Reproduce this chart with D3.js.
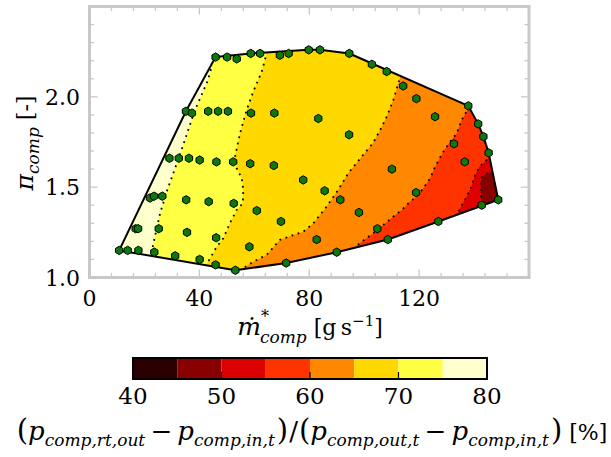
<!DOCTYPE html>
<html><head><meta charset="utf-8">
<script src="https://cdn.jsdelivr.net/npm/d3@7"></script>
<style>body{margin:0;background:#fff}svg{display:block}text{font-family:"DejaVu Serif",serif;fill:#000}</style>
</head><body><svg id="c" width="611" height="457"></svg>
<script>
// ---------------- data ----------------
const xTickValues = [0, 40, 80, 120];
const xTickLabels = ["0", "40", "80", "120"];
const yTickValues = [1.0, 1.5, 2.0];
const yTickLabels = ["1.0", "1.5", "2.0"];
const cbTickValues = [40, 50, 60, 70, 80];
const cbTickLabels = ["40", "50", "60", "70", "80"];
const bandEdges = [40, 45, 50, 55, 60, 65, 70, 75, 80];
const bandColors = ["#2b0000", "#880000", "#dd0000", "#ff3300", "#ff8800", "#ffd800", "#ffff44", "#ffffcc"];

// operating points: corrected mass flow [g/s], pressure ratio [-]
const massFlow = [45.9,50.1,53.6,58.7,62.1,69.3,72.5,79.8,83.9,94.6,102.8,108.2,114.2,119.0,137.9,125.8,141.5,143.4,94.5,132.7,145.3,136.6,110.1,118.9,91.3,98.1,104.8,108.6,127.0,142.8,148.8,90.0,71.6,53.1,45.9,40.1,31.2,23.6,17.8,13.9,10.8,16.8,17.7,25.2,35.5,46.1,58.2,82.7,22.0,23.5,26.5,35.2,43.4,52.5,60.9,69.7,29.1,32.5,36.2,40.1,46.2,52.3,58.5,67.1,77.8,85.6,35.1,37.3,43.2,46.8,50.4,58.8,67.3,83.3];
const pressureRatio = [2.22,2.22,2.21,2.24,2.24,2.23,2.24,2.26,2.26,2.24,2.18,2.14,2.06,1.99,1.95,1.89,1.85,1.78,1.79,1.74,1.69,1.64,1.60,1.47,1.43,1.36,1.27,1.21,1.31,1.40,1.43,1.14,1.08,1.04,1.07,1.10,1.12,1.14,1.15,1.15,1.15,1.27,1.27,1.27,1.25,1.22,1.17,1.21,1.44,1.45,1.45,1.43,1.42,1.41,1.37,1.31,1.66,1.66,1.66,1.65,1.64,1.64,1.63,1.62,1.54,1.48,1.92,1.91,1.92,1.92,1.92,1.91,1.91,1.88];

// contour levels [%] and their iso-lines (mass flow, pressure ratio)
const contourLevels = [75, 70, 65, 60, 55, 50];
const contour75 = [[42.0,2.25],[44.5,2.167],[42.9,2.084],[38.4,1.927],[33.9,1.724],[30.5,1.577],[28.3,1.484],[25.7,1.355],[23.8,1.226],[22.6,1.141],[22.2,1.086]];
const contour70 = [[64.8,2.287],[64.5,2.241],[62.7,2.139],[59.6,2.028],[57.2,1.927],[54.8,1.798],[53.5,1.706],[53.0,1.678],[53.6,1.604],[55.4,1.549],[56.0,1.484],[55.8,1.411],[53.6,1.374],[51.1,1.300],[48.7,1.217],[46.3,1.170],[43.9,1.106],[42.7,1.075],[41.3,1.014]];
const contour65 = [[113.8,2.160],[113.0,2.104],[110.6,1.982],[108.2,1.890],[105.8,1.816],[103.2,1.744],[99.1,1.669],[94.2,1.577],[90.5,1.484],[86.3,1.392],[81.5,1.300],[77.8,1.253],[74.2,1.235],[69.3,1.208],[64.5,1.125],[59.6,1.087],[56.0,1.051],[54.8,0.997]];
const contour60 = [[138.5,1.982],[137.9,1.937],[135.5,1.872],[133.7,1.798],[131.2,1.750],[128.8,1.696],[125.8,1.613],[124.0,1.549],[121.5,1.494],[119.1,1.447],[116.7,1.420],[113.7,1.374],[110.6,1.337],[107.0,1.291],[103.3,1.245],[99.1,1.198],[96.7,1.169],[94.1,1.119]];
const contour55 = [[149.1,1.733],[147.3,1.695],[144.5,1.650],[141.9,1.612],[140.1,1.556],[138.8,1.494],[137.0,1.438],[135.2,1.390],[133.6,1.340],[132.5,1.291]];
const contour50 = [[148.0,1.628],[146.9,1.595],[144.4,1.573],[142.8,1.556],[142.4,1.512],[142.5,1.457],[142.8,1.401],[142.9,1.363]];
const contourLines = [contour75, contour70, contour65, contour60, contour55, contour50];

// ---------------- drawing ----------------
const FONT = "DejaVu Serif, serif";
const svg = d3.select("#c");
const x = d3.scaleLinear().domain([0, 160]).range([89.5, 529]);
const y = d3.scaleLinear().domain([1.0, 2.5]).range([277.5, 6.5]);
const cb = d3.scaleLinear().domain([40, 80]).range([133, 487]);
const colorOf = d3.scaleThreshold().domain(bandEdges.slice(1, -1)).range(bandColors);

const pts = massFlow.map((m, i) => [m, pressureRatio[i]]);
const hull = d3.polygonHull(pts);
const line = d3.line().x(d => x(d[0])).y(d => y(d[1]));

svg.append("clipPath").attr("id", "hullclip")
  .append("path").attr("d", line(hull) + "Z");

const g = svg.append("g").attr("clip-path", "url(#hullclip)");
g.append("path").attr("d", line(hull) + "Z").attr("fill", colorOf(77.5));
contourLevels.forEach((L, i) => {
  const c = contourLines[i];
  const first = c[0], last = c[c.length - 1];
  const poly = c.concat([[last[0], 0.5], [200, 0.5], [200, 3], [first[0], 3]]);
  g.append("path").attr("d", line(poly) + "Z").attr("fill", colorOf(L - 2.5));
});
contourLines.forEach(c => {
  g.append("path").attr("d", line(c)).attr("fill", "none")
    .attr("stroke", "#000").attr("stroke-width", 1.8).attr("stroke-dasharray", "1.8 4.6");
});

svg.append("path").attr("d", line(hull) + "Z").attr("fill", "none")
  .attr("stroke", "#000").attr("stroke-width", 2).attr("stroke-linejoin", "round");

const hex = r => d3.range(6).map(k => {
  const a = Math.PI / 2 + k * Math.PI / 3;
  return [r * Math.cos(a), r * Math.sin(a)];
});
const hexPath = "M" + hex(4.2).map(p => p.join(",")).join("L") + "Z";
svg.append("g").selectAll("path").data(pts).join("path")
  .attr("d", hexPath)
  .attr("transform", d => `translate(${x(d[0])},${y(d[1])})`)
  .attr("fill", "#0b7a0b").attr("stroke", "#000").attr("stroke-width", 1);

// frame and ticks
const tickColor = "#c8c8c8";
const ax = svg.append("g").attr("stroke", tickColor);
const X0 = x.range()[0], X1 = x.range()[1], Y0 = y.range()[0], Y1 = y.range()[1];
d3.range(0, 161, 8).forEach(v => {
  const len = v % 40 === 0 ? 8 : 4.5;
  ax.append("line").attr("x1", x(v)).attr("x2", x(v)).attr("y1", Y0).attr("y2", Y0 - len).attr("stroke-width", 1.3);
  ax.append("line").attr("x1", x(v)).attr("x2", x(v)).attr("y1", Y1).attr("y2", Y1 + len).attr("stroke-width", 1.3);
});
d3.range(0, 16).forEach(k => {
  const v = 1.0 + k * 0.1;
  const len = k % 5 === 0 ? 8 : 4.5;
  ax.append("line").attr("y1", y(v)).attr("y2", y(v)).attr("x1", X0).attr("x2", X0 + len).attr("stroke-width", 1.3);
  ax.append("line").attr("y1", y(v)).attr("y2", y(v)).attr("x1", X1).attr("x2", X1 - len).attr("stroke-width", 1.3);
});
svg.append("rect").attr("x", X0).attr("y", Y1).attr("width", X1 - X0).attr("height", Y0 - Y1)
  .attr("fill", "none").attr("stroke", tickColor).attr("stroke-width", 3);

// tick labels
xTickValues.forEach((v, i) => {
  svg.append("text").attr("x", x(v)).attr("y", 306).attr("text-anchor", "middle")
    .attr("font-family", FONT).attr("font-size", 22).text(xTickLabels[i]);
});
yTickValues.forEach((v, i) => {
  svg.append("text").attr("x", 80).attr("y", y(v) + 8).attr("text-anchor", "end")
    .attr("font-family", FONT).attr("font-size", 22).text(yTickLabels[i]);
});

// x axis label
{
  const t = svg.append("text").attr("x", 0).attr("y", 335).attr("font-family", FONT);
  t.append("tspan").text("\u1E41").attr("font-size", 25).attr("font-style", "italic");
  const st = t.append("tspan").text("*").attr("font-size", 16).attr("dy", -13);
  const wst = st.node().getComputedTextLength();
  t.append("tspan").text("comp").attr("font-size", 17).attr("font-style", "italic").attr("dx", -wst - 1).attr("dy", 21);
  t.append("tspan").text("[g\u2009s").attr("font-size", 22).attr("dx", 7).attr("dy", -8);
  t.append("tspan").text("\u22121").attr("font-size", 15).attr("dy", -9);
  t.append("tspan").text("]").attr("font-size", 22).attr("dy", 9);
  const w = t.node().getComputedTextLength();
  t.attr("x", 309 - w / 2 + 2);
}

// y axis label
{
  const t = svg.append("text").attr("transform", "translate(33,143) rotate(-90)").attr("text-anchor", "middle")
    .attr("font-family", FONT);
  t.append("tspan").text("\u03C0").attr("font-size", 25).attr("font-style", "italic");
  t.append("tspan").text("comp").attr("font-size", 17).attr("font-style", "italic").attr("dy", 6);
  t.append("tspan").text("[-]").attr("font-size", 22).attr("dx", 7).attr("dy", -6);
}

// colorbar
const cbg = svg.append("g");
bandColors.forEach((c, i) => {
  cbg.append("rect").attr("x", cb(bandEdges[i])).attr("y", 358)
    .attr("width", cb(bandEdges[i + 1]) - cb(bandEdges[i])).attr("height", 21).attr("fill", c);
});
[50, 60, 70].forEach(v => {
  cbg.append("line").attr("x1", cb(v)).attr("x2", cb(v)).attr("y1", 379).attr("y2", 372)
    .attr("stroke", "#000").attr("stroke-width", 1.2);
});
cbg.append("rect").attr("x", cb(40)).attr("y", 358).attr("width", cb(80) - cb(40)).attr("height", 21)
  .attr("fill", "none").attr("stroke", "#000").attr("stroke-width", 2);
cbTickValues.forEach((v, i) => {
  svg.append("text").attr("x", cb(v)).attr("y", 404).attr("text-anchor", "middle")
    .attr("font-family", FONT).attr("font-size", 23).text(cbTickLabels[i]);
});

// colorbar label
{
  const t = svg.append("text").attr("x", 0).attr("y", 440).attr("font-family", FONT);
  const P = 26, S = 17, B = 29;
  const seq = [
    ["(", B, false, 0, 0], ["p", P, true, 0, 0], ["comp,rt,out", S, true, 6, 0],
    ["\u2009\u2212\u2009", P, false, -6, 0], ["p", P, true, 0, 0], ["comp,in,t", S, true, 6, 0],
    [")", B, false, -6, 2], ["/", P, false, 0, 1], ["(", B, false, 0, 1], ["p", P, true, 0, 0],
    ["comp,out,t", S, true, 6, 0], ["\u2009\u2212\u2009", P, false, -6, 0], ["p", P, true, 0, 0],
    ["comp,in,t", S, true, 6, 0], [")", B, false, -6, 2], ["[%]", 22, false, 0, 7]
  ];
  seq.forEach(([s, fs, it, dy, dx]) => {
    const ts = t.append("tspan").text(s).attr("font-size", fs);
    if (it) ts.attr("font-style", "italic");
    if (dy) ts.attr("dy", dy);
    if (dx) ts.attr("dx", dx);
  });
  const w = t.node().getComputedTextLength();
  t.attr("x", 305.5 - w / 2);
}
</script>
</body></html>
